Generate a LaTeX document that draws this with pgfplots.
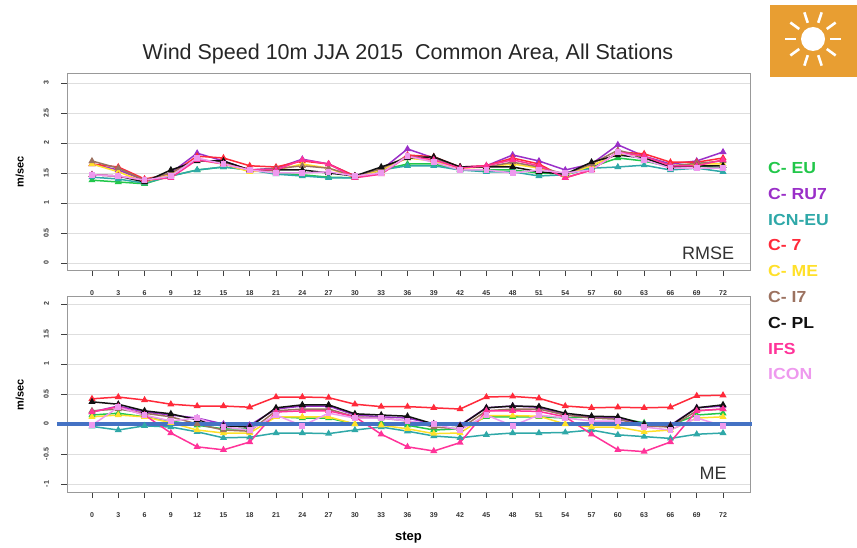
\documentclass[border=0pt]{standalone}
\usepackage{fontspec}
\setmainfont{Liberation Sans}
\usepackage{pgfplots}
\usepackage{pgfplotstable}
\pgfplotsset{compat=1.18}

\definecolor{cEU}{HTML}{22C74A}
\definecolor{cRU}{HTML}{9A2FC8}
\definecolor{cICN}{HTML}{2FA8A8}
\definecolor{cC7}{HTML}{FF2A3A}
\definecolor{cME}{HTML}{FFE02A}
\definecolor{cI7}{HTML}{9C7260}
\definecolor{cPL}{HTML}{111111}
\definecolor{cIFS}{HTML}{FF3399}
\definecolor{cICON}{HTML}{EE99EE}
\definecolor{logoorange}{HTML}{E89E32}
\definecolor{refblue}{HTML}{4472C4}

\pgfplotstableread{
x   EU    RU    ICN   C7    ME    I7    PL    IFS   ICON
0   1.38  1.65  1.43  1.65  1.65  1.70  1.47  1.47  1.47
3   1.35  1.55  1.40  1.60  1.52  1.58  1.45  1.45  1.45
6   1.32  1.38  1.33  1.40  1.35  1.38  1.35  1.38  1.38
9   1.45  1.50  1.45  1.48  1.48  1.50  1.55  1.42  1.45
12  1.55  1.83  1.55  1.78  1.72  1.72  1.70  1.72  1.75
15  1.60  1.70  1.60  1.75  1.65  1.68  1.70  1.65  1.65
18  1.55  1.55  1.55  1.62  1.52  1.55  1.55  1.55  1.55
21  1.50  1.58  1.48  1.60  1.55  1.57  1.55  1.55  1.50
24  1.47  1.73  1.45  1.70  1.65  1.62  1.55  1.72  1.50
27  1.43  1.65  1.42  1.65  1.58  1.58  1.50  1.65  1.52
30  1.42  1.45  1.42  1.45  1.42  1.45  1.45  1.42  1.45
33  1.55  1.55  1.55  1.50  1.55  1.57  1.60  1.48  1.50
36  1.65  1.90  1.62  1.80  1.75  1.78  1.75  1.78  1.78
39  1.65  1.75  1.62  1.77  1.70  1.75  1.77  1.72  1.68
42  1.55  1.60  1.55  1.60  1.58  1.60  1.60  1.58  1.55
45  1.55  1.62  1.52  1.62  1.60  1.60  1.60  1.62  1.55
48  1.55  1.80  1.52  1.75  1.65  1.68  1.60  1.72  1.50
51  1.50  1.70  1.45  1.65  1.58  1.60  1.52  1.62  1.55
54  1.48  1.55  1.47  1.42  1.47  1.48  1.48  1.42  1.50
57  1.60  1.65  1.58  1.55  1.62  1.65  1.68  1.55  1.55
60  1.75  1.97  1.60  1.85  1.82  1.88  1.80  1.85  1.85
63  1.70  1.78  1.63  1.82  1.75  1.77  1.75  1.78  1.72
66  1.60  1.65  1.55  1.68  1.62  1.62  1.60  1.62  1.58
69  1.62  1.70  1.58  1.68  1.65  1.66  1.62  1.62  1.58
72  1.58  1.85  1.52  1.75  1.65  1.70  1.62  1.72  1.58
}\rmsetab

\pgfplotstableread{
x   EU    RU    ICN   C7    ME    I7    PL    IFS   ICON
0   0.15  0.20 -0.04  0.42  0.12  0.22  0.37  0.20 -0.02
3   0.18  0.30 -0.10  0.45  0.15  0.25  0.33  0.29  0.28
6   0.12  0.20 -0.03  0.40  0.12  0.18  0.22  0.15  0.15
9   0.05  0.15 -0.05  0.33  0.02  0.12  0.17 -0.15  0.05
12 -0.02  0.10 -0.13  0.30 -0.10  0.00  0.07 -0.38  0.10
15 -0.08  0.00 -0.23  0.30 -0.15 -0.10 -0.03 -0.43 -0.05
18 -0.08 -0.02 -0.22  0.28 -0.15 -0.12 -0.05 -0.30 -0.10
21  0.12  0.25 -0.15  0.45  0.12  0.22  0.27  0.20  0.15
24  0.10  0.30 -0.15  0.45  0.12  0.25  0.32  0.22 -0.03
27  0.10  0.30 -0.16  0.44  0.12  0.25  0.32  0.22  0.18
30  0.00  0.15 -0.10  0.33  0.00  0.12  0.17  0.12  0.10
33  0.02  0.12 -0.05  0.29 -0.02  0.10  0.15 -0.17  0.10
36 -0.02  0.10 -0.12  0.29 -0.08  0.05  0.13 -0.38  0.05
39 -0.10  0.00 -0.20  0.27 -0.16 -0.05  0.00 -0.45  0.00
42 -0.08 -0.02 -0.23  0.25 -0.15 -0.08 -0.03 -0.31 -0.10
45  0.12  0.27 -0.18  0.45  0.14  0.22  0.27  0.22  0.15
48  0.12  0.30 -0.15  0.46  0.14  0.25  0.30  0.22 -0.03
51  0.12  0.28 -0.15  0.43  0.13  0.25  0.29  0.21  0.15
54  0.10  0.15 -0.14  0.30  0.00  0.15  0.18  0.12  0.10
57  0.12  0.12 -0.10  0.27 -0.05  0.10  0.13 -0.17  0.05
60  0.10  0.10 -0.18  0.28 -0.05  0.08  0.12 -0.43  0.05
63  0.02  0.00 -0.21  0.27 -0.13 -0.03  0.00 -0.46 -0.05
66 -0.02 -0.02 -0.24  0.28 -0.10 -0.05 -0.03 -0.30 -0.10
69  0.15  0.27 -0.17  0.47  0.10  0.22  0.27  0.22  0.10
72  0.18  0.30 -0.15  0.48  0.12  0.25  0.32  0.25 -0.03
}\metab

\pgfplotsset{
  panel/.style={
    scale only axis, width=683pt,
    xmin=-2.85, xmax=75.08,
    xtick={0,3,...,72},
    axis line style={draw=black!40, line width=1pt},
    tick style={black!75, line width=0.7pt},
    tick align=outside, major tick length=6pt,
    xtick pos=lower, ytick pos=left,
    ymajorgrids, grid style={black!13, line width=0.9pt},
    /pgf/number format/assume math mode=true,
    ticklabel style={font=\fontsize{7}{8}\selectfont\bfseries, text=black!80},
    yticklabel style={rotate=90, anchor=south, inner sep=12pt},
    xticklabel style={inner sep=5pt, yshift=-9pt},
    every axis y label/.style={at={(axis description cs:-0.069,0.5)}, rotate=90, anchor=center, font=\fontsize{11}{12}\selectfont\bfseries},
    every axis plot/.append style={line width=1.5pt, mark size=2.6pt, mark options={solid}},
    clip=false,
  },
}

\begin{document}
\begin{tikzpicture}[x=1pt,y=1pt]
\useasboundingbox (0pt,0pt) rectangle (857pt,547pt);

% top panel: RMSE
\begin{axis}[panel, at={(67pt,277pt)}, anchor=south west, height=196pt,
  ymin=-0.117, ymax=3.15, ytick={0,0.5,...,3}, ylabel={m/sec}]
\addplot[cEU, mark=triangle*] table[x=x,y=EU]{\rmsetab};
\addplot[cRU, mark=triangle*] table[x=x,y=RU]{\rmsetab};
\addplot[cICN, mark=triangle*] table[x=x,y=ICN]{\rmsetab};
\addplot[cC7, mark=triangle*] table[x=x,y=C7]{\rmsetab};
\addplot[cME, mark=triangle*] table[x=x,y=ME]{\rmsetab};
\addplot[cI7, mark=triangle*] table[x=x,y=I7]{\rmsetab};
\addplot[cPL, mark=triangle*] table[x=x,y=PL]{\rmsetab};
\addplot[cIFS, mark=triangle*] table[x=x,y=IFS]{\rmsetab};
\addplot[cICON, mark=square*, mark size=2.1pt] table[x=x,y=ICON]{\rmsetab};
\node[anchor=base east, font=\fontsize{18}{20}\selectfont, text=black!80] at (rel axis cs:0.982,0.056) {RMSE};
\end{axis}

% bottom panel: ME
\begin{axis}[panel, at={(67pt,55pt)}, anchor=south west, height=195pt,
  ymin=-1.133, ymax=2.117, ytick={-1,-0.5,...,2}, ylabel={m/sec}, xlabel={step},
  xlabel style={font=\fontsize{13}{14}\selectfont\bfseries, yshift=-6pt}]
\addplot[cEU, mark=triangle*] table[x=x,y=EU]{\metab};
\addplot[cRU, mark=triangle*] table[x=x,y=RU]{\metab};
\addplot[cICN, mark=triangle*] table[x=x,y=ICN]{\metab};
\addplot[cC7, mark=triangle*] table[x=x,y=C7]{\metab};
\addplot[cME, mark=triangle*] table[x=x,y=ME]{\metab};
\addplot[cI7, mark=triangle*] table[x=x,y=I7]{\metab};
\addplot[cPL, mark=triangle*] table[x=x,y=PL]{\metab};
\addplot[cIFS, mark=triangle*] table[x=x,y=IFS]{\metab};
\addplot[cICON, mark=square*, mark size=2.1pt] table[x=x,y=ICON]{\metab};
\draw[refblue, line width=4pt] (axis cs:-4,0) -- (axis cs:75.3,0);
\node[anchor=base east, font=\fontsize{18}{20}\selectfont, text=black!80] at (rel axis cs:0.971,0.062) {ME};
\end{axis}

% title
\node[anchor=base, font=\fontsize{21.5}{24}\selectfont, text=black!85] at (408pt,487pt) {Wind Speed 10m JJA 2015\ \ Common Area, All Stations};

% legend (coloured text)
\foreach \lab/\col [count=\i from 0] in {C- EU/cEU, C- RU7/cRU, ICN-EU/cICN, C- 7/cC7, C- ME/cME, C- I7/cI7, C- PL/cPL, IFS/cIFS, ICON/cICON}{
  \node[anchor=base west, inner sep=0pt, font=\fontsize{16}{18}\selectfont\bfseries, text=\col] at (768pt, 547pt-173.5pt-25.8pt*\i) {\scalebox{1.1}[1]{\lab}};
}

% logo
\fill[logoorange] (770pt,470pt) rectangle (857pt,542pt);
\fill[white] (813pt,508pt) circle (12pt);
\foreach \a in {0,36,...,324}{
  \draw[white, line width=2.6pt] (813pt,508pt) ++(\a:17pt) -- ++(\a:11pt);
}
\end{tikzpicture}
\end{document}
